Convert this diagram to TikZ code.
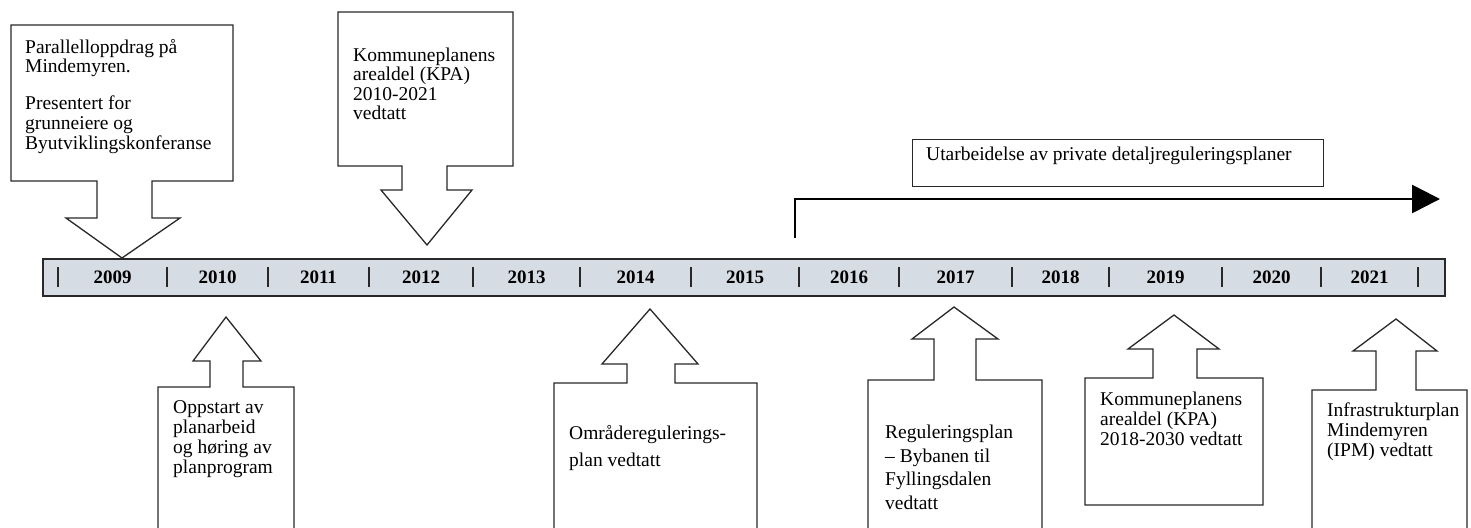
\documentclass[tikz,border=0pt]{standalone}
\usepackage{fontspec}
\setmainfont{Liberation Serif}
\usetikzlibrary{arrows.meta}
\definecolor{barfill}{RGB}{214,220,228}
\definecolor{edgec}{RGB}{40,40,40}
\newcommand{\txtblock}[2]{\parbox[t]{330pt}{\raggedright\fontsize{19.5}{#1}\selectfont #2}}
\tikzset{
  callout/.style={draw=edgec, line width=1.3pt, line join=miter},
  lbl/.style={inner sep=0pt, anchor=base west},
  yr/.style={font=\bfseries\fontsize{19}{19}\selectfont, inner sep=0pt, text=black},
  sepbar/.style={line width=1.8pt, draw=edgec},
}
\begin{document}
\begin{tikzpicture}[x=1pt,y=-1pt]
\useasboundingbox (0,0) rectangle (1471,527);

% top callouts (pointing down)
\draw[callout] (11,25) -- (233,25) -- (233,181) -- (152,181) -- (152,218) -- (180,218) -- (122,258) -- (66,218) -- (97,218) -- (97,181) -- (11,181) -- cycle;
\draw[callout] (338,12) -- (513,12) -- (513,166) -- (447,166) -- (447,190) -- (472,190) -- (427,245) -- (381,190) -- (402,190) -- (402,166) -- (338,166) -- cycle;

% bottom callouts (pointing up)
\draw[callout] (158,530) -- (158,387) -- (210,387) -- (210,361) -- (193,361) -- (226,317) -- (261,361) -- (243,361) -- (243,387) -- (294,387) -- (294,530);
\draw[callout] (554,530) -- (554,383) -- (627,383) -- (627,364) -- (602,364) -- (650,309) -- (698,364) -- (675,364) -- (675,383) -- (757,383) -- (757,530);
\draw[callout] (868,530) -- (868,380) -- (934,380) -- (934,339) -- (912,339) -- (954,307) -- (998,339) -- (976,339) -- (976,380) -- (1042,380) -- (1042,530);
\draw[callout] (1085,505) -- (1085,378) -- (1153,378) -- (1153,349) -- (1128,349) -- (1174,315) -- (1219,349) -- (1197,349) -- (1197,378) -- (1263,378) -- (1263,505) -- cycle;
\draw[callout] (1312,530) -- (1312,390) -- (1376,390) -- (1376,351) -- (1353,351) -- (1396,319) -- (1437,351) -- (1416,351) -- (1416,390) -- (1467,390) -- (1467,530);

% timeline bar
\draw[fill=barfill, draw=edgec, line width=1.5pt] (43,259) rectangle (1445,296);
\foreach \x in {58,167,268,369,473,580,691,799,899,1012,1109,1222,1321,1418}
  \draw[sepbar] (\x,267) -- (\x,287);
\foreach \a/\b/\yy in {58/167/2009,167/268/2010,268/369/2011,369/473/2012,473/580/2013,580/691/2014,691/799/2015,799/899/2016,899/1012/2017,1012/1109/2018,1109/1222/2019,1222/1321/2020,1321/1418/2021}
  \node[yr] (y\yy) at ({(\a+\b)/2},277.5) {\yy};

% texts
\node[lbl] (t2009) at (25,53) {\txtblock{20}{Parallelloppdrag på\\Mindemyren.\\[16pt]Presentert for\\grunneiere og\\Byutviklingskonferanse}};
\node[lbl] (t2012) at (353,61.5) {\txtblock{19.5}{Kommuneplanens\\arealdel (KPA)\\2010-2021\\vedtatt}};
\node[lbl] (t2010) at (173,413) {\txtblock{20}{Oppstart av\\planarbeid\\og høring av\\planprogram}};
\node[lbl] (t2014) at (569,439) {\txtblock{27}{Områderegulerings-\\plan vedtatt}};
\node[lbl] (t2017) at (885,438.5) {\txtblock{23.5}{Reguleringsplan\\– Bybanen til\\Fyllingsdalen\\vedtatt}};
\node[lbl] (t2019) at (1100,405) {\txtblock{20}{Kommuneplanens\\arealdel (KPA)\\2018-2030 vedtatt}};
\node[lbl] (t2021) at (1327,416) {\txtblock{20}{Infrastrukturplan\\Mindemyren\\(IPM) vedtatt}};

% private plans box and arrow
\node[draw=edgec, line width=1.3pt, minimum width=411pt, minimum height=47pt, anchor=north west, inner sep=0pt] (pbox) at (912,139) {};
\node[lbl] (ptext) at (926,160) {\fontsize{19.5}{20}\selectfont Utarbeidelse av private detaljreguleringsplaner};
\coordinate (arrS) at (795,238);
\coordinate (arrE) at (1440,199);
\draw[line width=2.6pt, -{Triangle[length=28pt,width=28pt]}] (arrS) |- (arrE);
\end{tikzpicture}
\end{document}
